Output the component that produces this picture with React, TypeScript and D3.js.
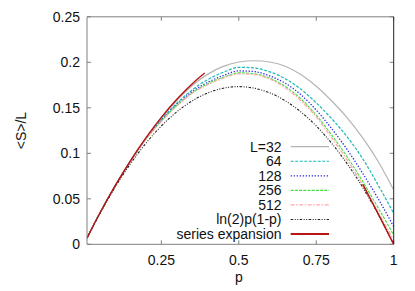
import React from "react";
import * as d3 from "d3";

const pGrid = [0.01, 0.05, 0.1, 0.15, 0.2, 0.25, 0.3, 0.35, 0.4, 0.45, 0.5, 0.55, 0.6, 0.65, 0.7, 0.75, 0.8, 0.85, 0.9, 0.95, 1.0];

const L32 = [0.0068, 0.0333, 0.0637, 0.0915, 0.1165, 0.1385, 0.158, 0.1745, 0.187, 0.1955, 0.2003, 0.2017, 0.2003, 0.1957, 0.1867, 0.1737, 0.1575, 0.139, 0.117, 0.091, 0.0597];
const L64 = [0.0068, 0.0333, 0.0636, 0.0912, 0.116, 0.137, 0.155, 0.17, 0.181, 0.189, 0.1945, 0.1938, 0.1895, 0.182, 0.1705, 0.1555, 0.138, 0.118, 0.094, 0.065, 0.034];
const L128 = [0.0068, 0.0333, 0.0635, 0.091, 0.1158, 0.1362, 0.1535, 0.168, 0.178, 0.1855, 0.1905, 0.1898, 0.185, 0.177, 0.1645, 0.1475, 0.127, 0.104, 0.078, 0.05, 0.0194];
const L256 = [0.0068, 0.0333, 0.0634, 0.0908, 0.1155, 0.1355, 0.1525, 0.1665, 0.1765, 0.1835, 0.1884, 0.1875, 0.1825, 0.1735, 0.16, 0.142, 0.12, 0.096, 0.069, 0.04, 0.0102];
const L512 = [0.0068, 0.0333, 0.0634, 0.0907, 0.1153, 0.135, 0.152, 0.166, 0.1755, 0.1825, 0.1874, 0.1865, 0.1815, 0.172, 0.158, 0.14, 0.117, 0.0925, 0.065, 0.035, 0.005];
const LN2 = [0.00686, 0.0329, 0.0624, 0.0884, 0.1109, 0.13, 0.1456, 0.1577, 0.1664, 0.1715, 0.1733, 0.1715, 0.1664, 0.1577, 0.1456, 0.13, 0.1109, 0.0884, 0.0624, 0.0329, 0];

const seriesLowP = [0.01, 0.05, 0.1, 0.15, 0.2, 0.25, 0.3, 0.35, 0.39];
const seriesLowV = [0.0069, 0.0333, 0.0639, 0.0918, 0.117, 0.1395, 0.1593, 0.1765, 0.1882];
const seriesHighP = [0.9, 0.95, 1.0];
const seriesHighV = [0.066, 0.0335, 0];

const xTicks = [0.25, 0.5, 0.75, 1];
const xTickLabels = ["0.25", "0.5", "0.75", "1"];
const yTicks = [0, 0.05, 0.1, 0.15, 0.2, 0.25];
const yTickLabels = ["0", "0.05", "0.1", "0.15", "0.2", "0.25"];

const legendLabels = ["L=32", "64", "128", "256", "512", "ln(2)p(1-p)", "series expansion"];

const W = 415, H = 291;
const M = { left: 87, right: 393.7, top: 16.8, bottom: 244.3 };

export default function App() {
  const x = d3.scaleLinear().domain([0.01, 1]).range([M.left, M.right]);
  const y = d3.scaleLinear().domain([0, 0.25]).range([M.bottom, M.top]);
  const line = d3.line<[number, number]>().x(d => x(d[0])).y(d => y(d[1])).curve(d3.curveMonotoneX);
  const mk = (ps: number[], vs: number[]) => line(ps.map((p, i) => [p, vs[i]] as [number, number])) || "";

  const styles = [
    { stroke: "#b4b4b4", dash: "", w: 1.2 },
    { stroke: "#1cb8b8", dash: "3,1.5", w: 1.2 },
    { stroke: "#2a2ae8", dash: "1.3,1.7", w: 1.3 },
    { stroke: "#44dd44", dash: "3,1.2", w: 1.1 },
    { stroke: "#ffaaaa", dash: "4,1.5,1.5,1.5", w: 1.3 },
    { stroke: "#222222", dash: "2.5,1.5,1,1.5,1,1.5", w: 1.1 },
    { stroke: "#b81414", dash: "", w: 1.4 },
  ];
  const series = [L32, L64, L128, L256, L512, LN2];
  const font = "'Liberation Sans', Arial, sans-serif";
  const legendY0 = 146.7, legendStep = 14.55;

  return (
    <svg width={W} height={H} style={{ position: "absolute", left: 0, top: 0 }} fontFamily={font}>
      <rect width={W} height={H} fill="#fff" />
      <defs>
        <clipPath id="plot">
          <rect x={M.left} y={M.top} width={M.right - M.left} height={M.bottom - M.top} />
        </clipPath>
      </defs>
      {yTicks.map((t, i) => (
        <g key={"y" + i}>
          <line x1={M.left} x2={M.left + 4} y1={y(t)} y2={y(t)} stroke="#808080" />
          <line x1={M.right - 4} x2={M.right} y1={y(t)} y2={y(t)} stroke="#808080" />
          <text x={80} y={y(t)} dy="0.36em" textAnchor="end" fontSize={14} fill="#111">{yTickLabels[i]}</text>
        </g>
      ))}
      {xTicks.map((t, i) => (
        <g key={"x" + i}>
          <line x1={x(t)} x2={x(t)} y1={M.bottom} y2={M.bottom - 4} stroke="#808080" />
          <line x1={x(t)} x2={x(t)} y1={M.top} y2={M.top + 4} stroke="#808080" />
          <text x={x(t)} y={264.5} textAnchor="middle" fontSize={14} fill="#111">{xTickLabels[i]}</text>
        </g>
      ))}
      <g clipPath="url(#plot)" fill="none">
        {series.map((s, i) => (
          <path key={i} d={mk(pGrid, s)} stroke={styles[i].stroke} strokeWidth={styles[i].w} strokeDasharray={styles[i].dash} />
        ))}
        <path d={mk(seriesLowP, seriesLowV)} stroke={styles[6].stroke} strokeWidth={styles[6].w} />
        <path d={mk(seriesHighP, seriesHighV)} stroke={styles[6].stroke} strokeWidth={styles[6].w} />
      </g>
      <path d={`M${M.left},${M.top}H${M.right}`} stroke="#808080" fill="none" />
      <path d={`M${M.left},${M.top}V${M.bottom}H${M.right}`} stroke="#808080" fill="none" />
      <path d={`M${M.right},${M.top}V${M.bottom}`} stroke="#222" fill="none" />
      {legendLabels.map((lab, i) => {
        const ly = legendY0 + i * legendStep;
        return (
          <g key={"l" + i}>
            <text x={281.5} y={ly} dy="0.36em" textAnchor="end" fontSize={14} fill="#111">{lab}</text>
            <line x1={290.7} x2={329} y1={ly} y2={ly} stroke={styles[i].stroke} strokeWidth={i === 6 ? 1.8 : styles[i].w} strokeDasharray={styles[i].dash} />
          </g>
        );
      })}
      <text x={239} y={282} textAnchor="middle" fontSize={14} fill="#111">p</text>
      <text transform={`translate(26,${(M.top + M.bottom) / 2}) rotate(-90)`} textAnchor="middle" fontSize={14} fill="#111">{"<S>/L"}</text>
    </svg>
  );
}
